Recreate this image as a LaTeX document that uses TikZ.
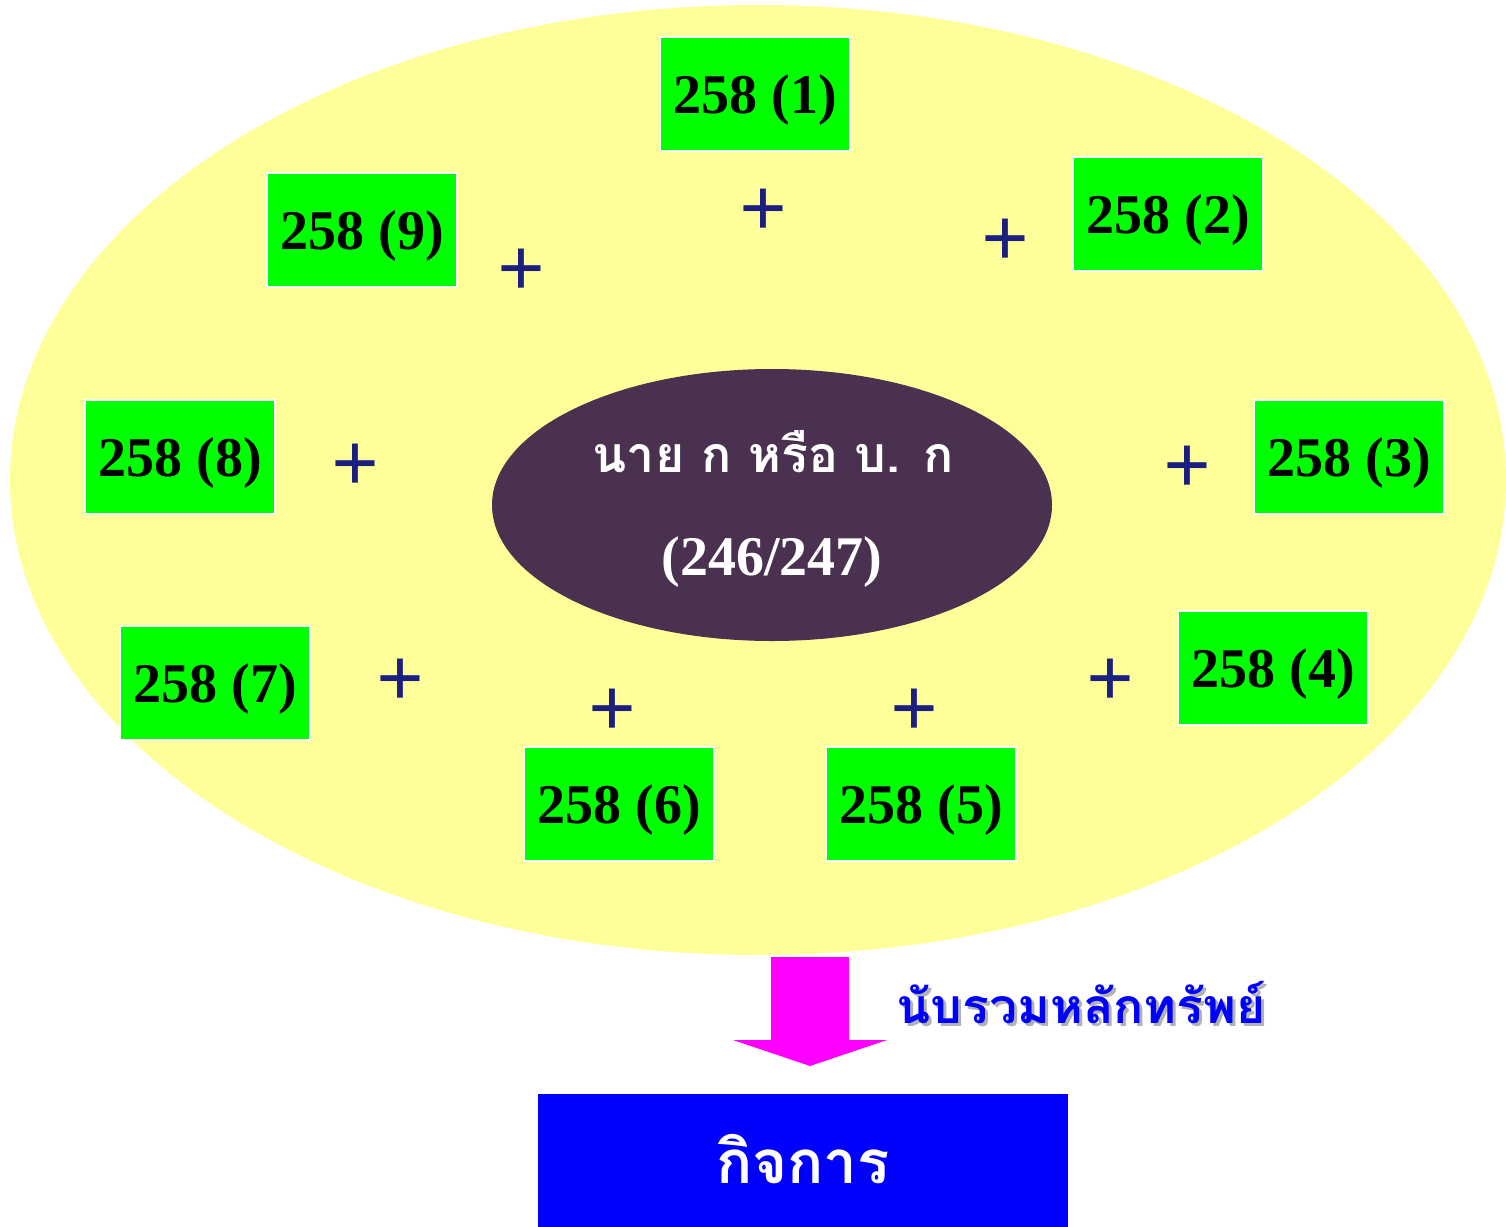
\documentclass[tikz,border=0pt]{standalone}
\usepackage{fontspec}
\usetikzlibrary{shapes.geometric}
\setmainfont{Liberation Serif}
\newfontfamily\thaifont[Script=Thai]{Loma}
\definecolor{yellowbg}{HTML}{FFFF99}
\definecolor{midpurple}{HTML}{4B3150}
\definecolor{boxgreen}{HTML}{00FF00}
\definecolor{plusnavy}{HTML}{1A1F80}
\definecolor{arrowpink}{HTML}{FF00FF}
\definecolor{labelblue}{HTML}{0000FF}
\tikzset{
  numbox/.style={draw=white, line width=2pt, fill=boxgreen, minimum width=190pt, minimum height=114pt,
    inner sep=0pt, text height=48pt, text depth=10pt, font=\fontsize{56}{60}\selectfont\bfseries, text=black},
  plussign/.style={font=\fontsize{84}{84}\selectfont\bfseries, text=plusnavy, inner sep=0pt},
}
\begin{document}
\begin{tikzpicture}[x=1pt,y=-1pt]
\useasboundingbox (0,0) rectangle (1506,1226);
\fill[white] (0,0) rectangle (1506,1226);
% big yellow ellipse
\fill[yellowbg] (758,480) ellipse [x radius=748, y radius=475];
% central ellipse
\node[ellipse, fill=midpurple, minimum width=560pt, minimum height=272pt, inner sep=0pt] (center) at (772,505) {};
\node[text=white, font=\thaifont\fontsize{50}{50}\selectfont\bfseries, anchor=base] (ctext) at (773,472) {นาย ก หรือ บ. ก};
\node[text=white, font=\fontsize{56}{60}\selectfont\bfseries, anchor=base] (cnum) at (772,575) {(246/247)};
% green boxes
\node[numbox] (b1) at (755,94) {258 (1)};
\node[numbox] (b2) at (1168,214) {258 (2)};
\node[numbox] (b3) at (1349,457) {258 (3)};
\node[numbox] (b4) at (1273,668) {258 (4)};
\node[numbox] (b5) at (921,804) {258 (5)};
\node[numbox] (b6) at (619,804) {258 (6)};
\node[numbox] (b7) at (215,683) {258 (7)};
\node[numbox] (b8) at (180,457) {258 (8)};
\node[numbox] (b9) at (362,230) {258 (9)};
% plus signs
\node[plussign] (p1) at (763,213) {+};
\node[plussign] (p2) at (1005,243) {+};
\node[plussign] (p3) at (1187,470) {+};
\node[plussign] (p4) at (1110,683) {+};
\node[plussign] (p5) at (914,713) {+};
\node[plussign] (p6) at (612,713) {+};
\node[plussign] (p7) at (400,683) {+};
\node[plussign] (p8) at (355,468) {+};
\node[plussign] (p9) at (521,273) {+};
% arrow
\fill[arrowpink] (771,957) -- (849,957) -- (849,1040) -- (887,1040) -- (810,1066) -- (733,1040) -- (771,1040) -- cycle;
% label with shadow
\node[text=gray!60, font=\thaifont\fontsize{48}{48}\selectfont\bfseries, anchor=base west, xscale=1.04, transform shape] (lblshadow) at (896,1026) {นับรวมหลักทรัพย์};
\node[text=labelblue, font=\thaifont\fontsize{48}{48}\selectfont\bfseries, anchor=base west, xscale=1.04, transform shape] (lbl) at (893,1023) {นับรวมหลักทรัพย์};
% bottom box
\node[fill=labelblue, minimum width=530pt, minimum height=134pt, inner sep=0pt, anchor=north west] (firm) at (538,1094) {};
\node[text=white, font=\thaifont\fontsize{60}{60}\selectfont\bfseries, anchor=base] (firmtext) at (803,1183) {กิจการ};
\end{tikzpicture}
\end{document}
